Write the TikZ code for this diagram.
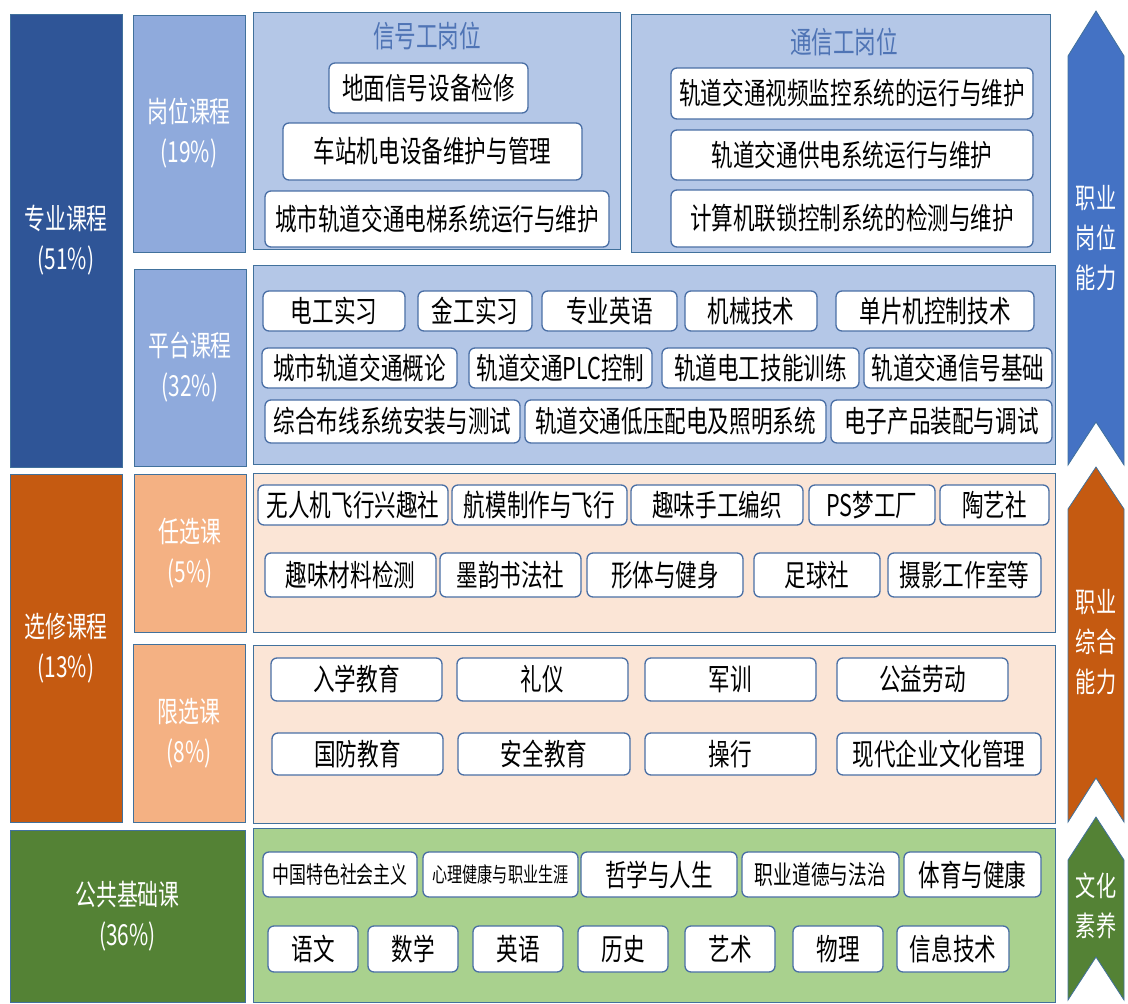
\documentclass[tikz,border=0pt]{standalone}
\usepackage{fontspec}
\newfontfamily\cjk[FakeStretch=0.72]{Noto Sans CJK SC}
\definecolor{dblue}{HTML}{2F5597}
\definecolor{mblue}{HTML}{8FAADC}
\definecolor{pblue}{HTML}{B4C7E7}
\definecolor{tblue}{HTML}{4F74B5}
\definecolor{ablue}{HTML}{4472C4}
\definecolor{dorange}{HTML}{C55A11}
\definecolor{morange}{HTML}{F4B183}
\definecolor{porange}{HTML}{FBE5D6}
\definecolor{dgreen}{HTML}{548235}
\definecolor{pgreen}{HTML}{A9D18E}
\definecolor{bordL}{HTML}{41719C}
\definecolor{bordI}{HTML}{4A6FA5}
\newcommand\bx[7]{\node[#1, minimum width={#5-#3}, minimum height={#6-#4}] (#2) at ({(#3+#5)/2},{(#4+#6)/2}) {#7};}
\tikzset{
  catbox/.style={draw=bordL, line width=0.9pt, text=white, align=center, inner sep=0pt,
    font=\cjk\fontsize{29}{40}\selectfont},
  panelbox/.style={draw=bordL, line width=1pt, inner sep=0pt},
  item/.style={draw=bordI, fill=white, rounded corners=6pt, line width=1.3pt, inner sep=0pt,
    text=black, font=\cjk\fontsize{30}{32}\selectfont},
  ptitle/.style={text=tblue, font=\cjk\fontsize{30}{32}\selectfont, inner sep=0pt},
  chevron/.style={draw=bordL, line width=0.8pt},
  arrowtext/.style={text=white, align=center, font=\cjk\fontsize{28}{40}\selectfont, inner sep=0pt}
}
\begin{document}
\begin{tikzpicture}[x=1pt,y=-1pt]
\useasboundingbox (0,0) rectangle (1128,1004);
% left category boxes
\bx{catbox, fill=dblue}{zy}{10}{14}{122}{467}{专业课程\\(51\%)}
\bx{catbox, fill=mblue}{gw}{133}{15}{245}{252}{岗位课程\\(19\%)}
\bx{catbox, fill=mblue}{pt}{134}{269}{246}{466}{平台课程\\(32\%)}
\bx{catbox, fill=dorange}{xx}{10}{474}{122}{822}{选修课程\\(13\%)}
\bx{catbox, fill=morange}{rx}{134}{474}{246}{632}{任选课\\(5\%)}
\bx{catbox, fill=morange}{lx}{133}{644}{245}{822}{限选课\\(8\%)}
\bx{catbox, fill=dgreen}{gg}{10}{830}{245}{1002}{公共基础课\\(36\%)}
% panels
\bx{panelbox, fill=pblue}{psig}{253}{12}{620}{249}{}
\bx{panelbox, fill=pblue}{ptel}{631}{14}{1050}{252}{}
\bx{panelbox, fill=pblue}{pplat}{253}{265}{1055}{464}{}
\bx{panelbox, fill=porange}{prx}{253}{473}{1055}{632}{}
\bx{panelbox, fill=porange}{plx}{253}{645}{1055}{823}{}
\bx{panelbox, fill=pgreen}{pgg}{253}{828}{1055}{1002}{}
\node[ptitle] (tsig) at (427,36) {信号工岗位};
\node[ptitle] (ttel) at (844,42) {通信工岗位};
% signal
\bx{item}{s1}{329}{63}{528}{113}{地面信号设备检修}
\bx{item}{s2}{283}{123}{582}{180}{车站机电设备维护与管理}
\bx{item}{s3}{265}{191}{609}{247}{城市轨道交通电梯系统运行与维护}
% telecom
\bx{item}{t1}{671}{68}{1033}{119}{轨道交通视频监控系统的运行与维护}
\bx{item}{t2}{671}{130}{1033}{180}{轨道交通供电系统运行与维护}
\bx{item}{t3}{671}{190}{1033}{247}{计算机联锁控制系统的检测与维护}
% platform
\bx{item}{a1}{263}{291}{405}{331}{电工实习}
\bx{item}{a2}{418}{291}{532}{331}{金工实习}
\bx{item}{a3}{542}{291}{677}{331}{专业英语}
\bx{item}{a4}{685}{291}{817}{331}{机械技术}
\bx{item}{a5}{836}{291}{1034}{331}{单片机控制技术}
\bx{item}{b1}{262}{348}{457}{388}{城市轨道交通概论}
\bx{item}{b2}{469}{348}{652}{388}{轨道交通PLC控制}
\bx{item}{b3}{662}{348}{859}{388}{轨道电工技能训练}
\bx{item}{b4}{864}{348}{1052}{388}{轨道交通信号基础}
\bx{item}{c1}{265}{400}{520}{443}{综合布线系统安装与测试}
\bx{item}{c2}{525}{400}{826}{443}{轨道交通低压配电及照明系统}
\bx{item}{c3}{831}{400}{1052}{443}{电子产品装配与调试}
% optional electives
\bx{item}{d1}{258}{485}{448}{525}{无人机飞行兴趣社}
\bx{item}{d2}{452}{485}{627}{525}{航模制作与飞行}
\bx{item}{d3}{631}{485}{803}{525}{趣味手工编织}
\bx{item}{d4}{809}{485}{935}{525}{PS梦工厂}
\bx{item}{d5}{940}{485}{1049}{525}{陶艺社}
\bx{item}{e1}{265}{553}{436}{597}{趣味材料检测}
\bx{item}{e2}{440}{553}{581}{597}{墨韵书法社}
\bx{item}{e3}{587}{553}{743}{597}{形体与健身}
\bx{item}{e4}{754}{553}{880}{597}{足球社}
\bx{item}{e5}{888}{553}{1041}{597}{摄影工作室等}
% required electives
\bx{item}{f1}{271}{658}{442}{701}{入学教育}
\bx{item}{f2}{457}{658}{628}{701}{礼仪}
\bx{item}{f3}{645}{658}{816}{701}{军训}
\bx{item}{f4}{837}{658}{1008}{701}{公益劳动}
\bx{item}{g1}{272}{733}{443}{775}{国防教育}
\bx{item}{g2}{458}{733}{630}{775}{安全教育}
\bx{item}{g3}{645}{733}{816}{775}{操行}
\bx{item}{g4}{837}{733}{1041}{775}{现代企业文化管理}
% public basics
\bx{item, font=\cjk\fontsize{23.5}{25}\selectfont}{h1}{263}{852}{417}{897}{中国特色社会主义}
\bx{item, font=\cjk\fontsize{21}{23}\selectfont}{h2}{423}{852}{578}{897}{心理健康与职业生涯}
\bx{item}{h3}{581}{852}{737}{897}{哲学与人生}
\bx{item, font=\cjk\fontsize{26}{28}\selectfont}{h4}{742}{852}{899}{897}{职业道德与法治}
\bx{item}{h5}{904}{852}{1041}{897}{体育与健康}
\bx{item}{k1}{268}{926}{358}{972}{语文}
\bx{item}{k2}{368}{926}{458}{972}{数学}
\bx{item}{k3}{473}{926}{563}{972}{英语}
\bx{item}{k4}{578}{926}{668}{972}{历史}
\bx{item}{k5}{685}{926}{775}{972}{艺术}
\bx{item}{k6}{793}{926}{883}{972}{物理}
\bx{item}{k7}{897}{926}{1009}{972}{信息技术}
% right chevron arrows
\filldraw[chevron, fill=ablue] (1096,11) -- (1124,56) -- (1124,465) -- (1096,422) -- (1068,465) -- (1068,56) -- cycle;
\filldraw[chevron, fill=dorange] (1096,467) -- (1124,509) -- (1124,822) -- (1096,778) -- (1068,822) -- (1068,509) -- cycle;
\filldraw[chevron, fill=dgreen] (1096,817) -- (1124,860) -- (1124,1000) -- (1096,957) -- (1068,1000) -- (1068,860) -- cycle;
\node[arrowtext] (ar1) at (1096,238) {职业\\岗位\\能力};
\node[arrowtext] (ar2) at (1096,642) {职业\\综合\\能力};
\node[arrowtext] (ar3) at (1096,906) {文化\\素养};
\end{tikzpicture}
\end{document}
